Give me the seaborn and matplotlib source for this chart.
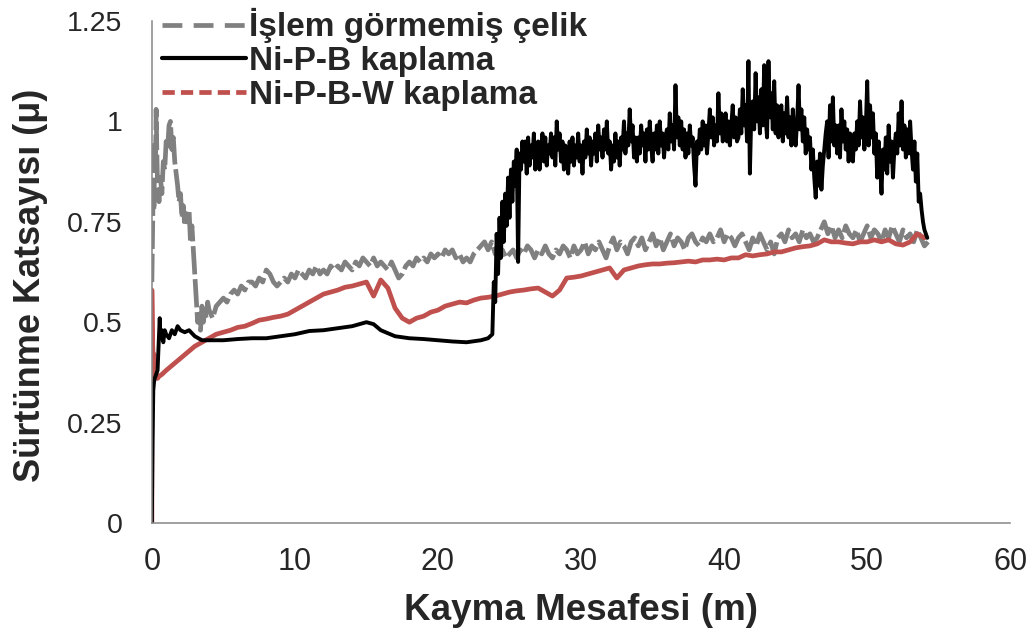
import numpy as np
import pandas as pd
import matplotlib
matplotlib.use("Agg")
import matplotlib.pyplot as plt
import seaborn as sns
from matplotlib import font_manager
from matplotlib.lines import Line2D

# ---------------- data ----------------
series_names = ["İşlem görmemiş çelik", "Ni-P-B kaplama", "Ni-P-B-W kaplama"]

# Untreated steel (grey) - early part, explicit distances
gray_x_start = [0.0, 0.05, 0.1, 0.15, 0.2, 0.25, 0.3, 0.35, 0.4, 0.5, 0.6, 0.7, 0.8, 0.9,
                1.0, 1.1, 1.2, 1.3, 1.4, 1.5, 1.6, 1.7, 1.8, 1.9, 2.0, 2.1, 2.2, 2.3, 2.4,
                2.5, 2.6, 2.7, 2.8, 2.9, 3.0, 3.1, 3.2, 3.3, 3.4, 3.5, 3.6, 3.7, 3.8, 3.9]
gray_y_start = [0.60, 0.72, 0.85, 0.78, 0.95, 0.88, 1.03, 0.92, 0.84, 0.80, 0.86, 0.82, 0.90,
                0.88, 0.95, 0.93, 0.99, 1.00, 0.93, 0.96, 0.90, 0.87, 0.84, 0.80, 0.82, 0.76,
                0.79, 0.74, 0.77, 0.75, 0.78, 0.70, 0.74, 0.68, 0.62, 0.56, 0.50, 0.52, 0.48,
                0.54, 0.50, 0.53, 0.51, 0.55]
# grey, sampled every 0.25 m starting at 4.0 m
gray_rest_start, gray_rest_step = 4.0, 0.25
gray_y_rest = [
    0.53, 0.51, 0.54, 0.55,  0.56, 0.55, 0.57, 0.58,  0.57, 0.59, 0.58, 0.60,
    0.60, 0.59, 0.61, 0.60,  0.63, 0.62, 0.60, 0.59,  0.60, 0.61, 0.60, 0.62,
    0.61, 0.63, 0.62, 0.61,  0.63, 0.62, 0.64, 0.62,  0.63, 0.62, 0.64, 0.63,
    0.64, 0.63, 0.65, 0.64,  0.63, 0.65, 0.64, 0.66,  0.65, 0.64, 0.66, 0.64,
    0.65, 0.64, 0.63, 0.65,  0.63, 0.61, 0.62, 0.64,  0.65, 0.64, 0.66, 0.65,
    0.66, 0.65, 0.67, 0.66,  0.67, 0.66, 0.68, 0.67,  0.68, 0.66, 0.67, 0.65,
    0.66, 0.65, 0.67, 0.68,  0.69, 0.70, 0.68, 0.70,  0.67, 0.66, 0.68, 0.66,
    0.67, 0.68, 0.66, 0.68,  0.67, 0.69, 0.68, 0.66,  0.68, 0.67, 0.69, 0.67,
    0.66, 0.68, 0.67, 0.69,  0.68, 0.66, 0.69, 0.67,  0.68, 0.70, 0.67, 0.69,
    0.68, 0.70, 0.68, 0.66,  0.69, 0.71, 0.68, 0.70,  0.69, 0.67, 0.70, 0.71,
    0.69, 0.71, 0.68, 0.70,  0.72, 0.69, 0.71, 0.68,  0.70, 0.72, 0.69, 0.71,
    0.70, 0.68, 0.71, 0.72,  0.70, 0.69, 0.71, 0.70,  0.72, 0.70, 0.71, 0.73,
    0.70, 0.72, 0.71, 0.69,  0.71, 0.72, 0.70, 0.68,  0.71, 0.69, 0.72, 0.70,
    0.68, 0.70, 0.67, 0.71,  0.72, 0.70, 0.73, 0.71,  0.72, 0.70, 0.73, 0.71,
    0.72, 0.70, 0.71, 0.73,  0.75, 0.72, 0.74, 0.71,  0.73, 0.71, 0.74, 0.72,
    0.71, 0.73, 0.70, 0.72,  0.74, 0.71, 0.73, 0.72,  0.70, 0.73, 0.71, 0.74,
    0.72, 0.70, 0.73, 0.71,  0.72, 0.70, 0.73, 0.71,  0.69, 0.70]

# Ni-P-B coating (black) - early part, explicit distances
black_x_start = [0.0, 0.05, 0.1, 0.15, 0.2, 0.3, 0.4, 0.5, 0.55, 0.6, 0.7, 0.8, 0.9, 1.0,
                 1.2, 1.4, 1.6, 1.8, 2.0, 2.3, 2.6, 3.0, 3.5, 4.0, 5.0, 6.0, 7.0, 8.0, 9.0,
                 10.0, 11.0, 12.0, 13.0, 14.0, 15.0, 15.5, 16.0, 17.0, 18.0, 19.0, 20.0,
                 21.0, 22.0, 23.0, 23.5]
black_y_start = [0.0, 0.20, 0.33, 0.35, 0.36, 0.37, 0.38, 0.47, 0.51, 0.46, 0.48, 0.45, 0.48,
                 0.47, 0.46, 0.48, 0.47, 0.49, 0.48, 0.475, 0.48, 0.465, 0.455, 0.455, 0.455,
                 0.458, 0.46, 0.46, 0.465, 0.47, 0.478, 0.48, 0.485, 0.49, 0.50, 0.495, 0.48,
                 0.465, 0.46, 0.458, 0.455, 0.452, 0.45, 0.455, 0.46]
# black, sampled every 0.1 m starting at 23.8 m
black_rest_start, black_rest_step = 23.8, 0.1
black_y_rest = [
    0.47, 0.60, 0.55, 0.72, 0.62, 0.76, 0.66, 0.80, 0.70, 0.82, 0.74,
    0.86, 0.76, 0.88, 0.80, 0.90, 0.84, 0.93, 0.65, 0.92, 0.88, 0.95,
    0.90, 0.95, 0.87, 0.96, 0.89, 0.94, 0.91, 0.97, 0.88, 0.93,
    0.95, 0.88, 0.93, 0.97, 0.90, 0.96, 0.89, 0.94, 0.92, 0.97,
    0.91, 0.96, 0.89, 1.00, 0.93, 0.97, 0.90, 0.95, 0.88, 0.94,
    0.92, 0.87, 0.95, 0.90, 0.96, 0.89, 0.94, 0.91, 0.97, 0.90,
    0.94, 0.87, 0.95, 0.91, 0.98, 0.92, 0.96, 0.89, 0.95, 0.92,
    0.97, 0.90, 0.99, 0.93, 0.96, 0.91, 0.98, 0.93, 1.00, 0.92,
    0.95, 0.88, 0.94, 0.90, 0.97, 0.91, 0.95, 0.89, 0.96, 0.93,
    1.00, 0.92, 0.97, 0.94, 1.03, 0.95, 0.99, 0.91, 0.96, 0.90,
    0.96, 0.92, 0.99, 0.94, 0.97, 0.90, 0.98, 0.93, 1.00, 0.94,
    0.90, 0.97, 0.93, 0.99, 0.92, 1.00, 0.94, 0.97, 0.91, 0.96,
    0.98, 0.93, 1.02, 0.95, 0.99, 0.93, 1.09, 0.96, 1.01, 0.94,
    1.00, 0.93, 0.98, 0.91, 0.97, 0.92, 0.99, 0.94, 0.96, 0.89,
    0.84, 0.95, 0.92, 0.98, 0.93, 1.00, 0.94, 0.99, 0.92, 0.97,
    1.03, 0.96, 1.01, 0.94, 0.99, 0.95, 1.07, 0.97, 1.02, 0.95,
    0.97, 1.02, 0.95, 1.00, 0.94, 0.99, 1.04, 0.96, 1.01, 0.95,
    0.96, 1.03, 0.97, 1.08, 0.99, 1.04, 0.95, 1.15, 0.87, 1.02,
    1.05, 0.98, 1.12, 1.00, 1.06, 0.97, 1.08, 0.99, 1.14, 1.01,
    0.96, 1.15, 1.01, 1.07, 0.98, 1.10, 0.97, 1.04, 0.96, 1.02,
    1.04, 0.95, 1.02, 0.97, 1.06, 0.96, 1.01, 0.94, 1.03, 0.97,
    0.94, 1.00, 1.09, 0.98, 1.03, 0.95, 1.01, 0.92, 0.98, 0.93,
    0.96, 0.88, 0.93, 0.86, 0.81, 0.90, 0.84, 0.92, 0.83, 0.89,
    0.93, 0.97, 1.00, 0.91, 1.04, 0.95, 1.06, 0.94, 0.99, 0.92,
    0.99, 0.91, 1.03, 0.95, 1.00, 0.93, 0.98, 0.90, 0.97, 0.92,
    0.90, 0.97, 0.93, 1.00, 0.94, 1.05, 0.96, 1.01, 0.93, 0.98,
    1.10, 0.94, 1.04, 0.96, 1.02, 0.92, 0.97, 0.86, 0.95, 0.89,
    0.82, 0.93, 0.88, 0.96, 0.87, 0.99, 0.90, 0.95, 0.86, 0.93,
    0.97, 0.92, 1.02, 0.94, 1.05, 0.93, 0.99, 0.91, 0.98, 0.92,
    1.00, 0.93, 0.88, 0.95, 0.85, 0.92, 0.80, 0.82, 0.78, 0.75,
    0.73, 0.72, 0.71]

# Ni-P-B-W coating (red) - early part, explicit distances
red_x_start = [0.0, 0.0, 0.05, 0.1, 0.15, 0.2, 0.3, 0.4, 0.5, 0.7]
red_y_start = [0.0, 0.58, 0.45, 0.40, 0.42, 0.38, 0.37, 0.36, 0.365, 0.37]
# red, sampled every 0.5 m starting at 1.0 m
red_rest_start, red_rest_step = 1.0, 0.5
red_y_rest = [
    0.38, 0.395, 0.41, 0.425, 0.44, 0.45, 0.46, 0.47, 0.475, 0.48,
    0.487, 0.49, 0.497, 0.505, 0.508, 0.512, 0.515, 0.52, 0.53, 0.54,
    0.55, 0.56, 0.57, 0.575, 0.58, 0.587, 0.59, 0.595, 0.60, 0.565,
    0.605, 0.585, 0.535, 0.51, 0.50, 0.51, 0.515, 0.525, 0.53, 0.54,
    0.545, 0.55, 0.548, 0.555, 0.56, 0.562, 0.565, 0.57, 0.575, 0.578,
    0.58, 0.583, 0.585, 0.575, 0.565, 0.58, 0.61, 0.612, 0.615, 0.62,
    0.625, 0.63, 0.635, 0.61, 0.63, 0.635, 0.64, 0.643, 0.645, 0.645,
    0.647, 0.648, 0.65, 0.652, 0.65, 0.655, 0.655, 0.657, 0.655, 0.66,
    0.66, 0.668, 0.665, 0.668, 0.67, 0.675, 0.675, 0.68, 0.685, 0.688,
    0.69, 0.695, 0.705, 0.70, 0.70, 0.697, 0.695, 0.70, 0.70, 0.705,
    0.70, 0.705, 0.695, 0.692, 0.70, 0.72, 0.71]

x_ticks = [0, 10, 20, 30, 40, 50, 60]
y_ticks = [0, 0.25, 0.5, 0.75, 1, 1.25]
y_tick_labels = ["0", "0.25", "0.5", "0.75", "1", "1.25"]
x_label = "Kayma Mesafesi (m)"
y_label = "Sürtünme Katsayısı (μ)"

# ---------------- assemble ----------------
def build(xs, ys, start, step, rest):
    xr = start + step * np.arange(len(rest))
    return (np.concatenate([np.asarray(xs, float), xr]),
            np.concatenate([np.asarray(ys, float), np.asarray(rest, float)]))

gx, gy = build(gray_x_start, gray_y_start, gray_rest_start, gray_rest_step, gray_y_rest)
bx, by = build(black_x_start, black_y_start, black_rest_start, black_rest_step, black_y_rest)
rx, ry = build(red_x_start, red_y_start, red_rest_start, red_rest_step, red_y_rest)

df = pd.concat([
    pd.DataFrame({"x": gx, "y": gy, "s": series_names[0], "o": np.arange(len(gx))}),
    pd.DataFrame({"x": bx, "y": by, "s": series_names[1], "o": np.arange(len(bx))}),
    pd.DataFrame({"x": rx, "y": ry, "s": series_names[2], "o": np.arange(len(rx))}),
], ignore_index=True)

# ---------------- style ----------------
sns.set_style("white")
avail = {f.name for f in font_manager.fontManager.ttflist}
base_font = "Liberation Sans" if "Liberation Sans" in avail else "DejaVu Sans"
plt.rcParams["font.family"] = [base_font, "DejaVu Sans"]

axis_grey = "#868686"
colors = {series_names[0]: "#808080", series_names[1]: "#000000", series_names[2]: "#C0504D"}

fig = plt.figure(figsize=(10.33, 6.36), dpi=100)
ax = fig.add_axes([0.147, 0.1777, 0.831, 0.7893])

draw_order = [series_names[0], series_names[2], series_names[1]]
plot_dash = {series_names[0]: (6.0, 1.0), series_names[1]: None, series_names[2]: None}
legend_dash = {series_names[0]: (4.2, 2.4), series_names[1]: None, series_names[2]: (2.6, 1.3)}
width_map = {series_names[0]: 3.4, series_names[1]: 2.8, series_names[2]: 3.4}
for name in draw_order:
    sub = df[df["s"] == name].sort_values("o")
    sns.lineplot(data=sub, x="x", y="y", sort=False, estimator=None, ax=ax,
                 color=colors[name], lw=width_map[name], legend=False)
    line = ax.lines[-1]
    if plot_dash[name] is not None:
        line.set_dashes(plot_dash[name])
    line.set_solid_joinstyle("round")
    line.set_dash_joinstyle("round")

ax.set_xlim(0, 60)
ax.set_ylim(0, 1.25)
ax.set_xticks(x_ticks)
ax.set_xticklabels([str(v) for v in x_ticks], fontsize=22)
ax.set_yticks(y_ticks)
ax.set_yticklabels(y_tick_labels, fontsize=20.5)
ax.tick_params(axis="x", direction="out", length=7, width=1.1, color=axis_grey, pad=10)
ax.tick_params(axis="y", direction="out", length=7, width=1.1, color=axis_grey, pad=14)

for side in ["top", "right"]:
    ax.spines[side].set_visible(False)
for side in ["left", "bottom"]:
    ax.spines[side].set_color(axis_grey)
    ax.spines[side].set_linewidth(1.1)

ax.set_xlabel(x_label, fontsize=26.5, fontweight="bold", labelpad=12)
ax.set_ylabel(y_label, fontsize=26, fontweight="bold")
ax.yaxis.set_label_coords(-0.121, 0.474)

# legend handles in the reference order and line styles
handles = []
for name in series_names:
    h = Line2D([], [], color=colors[name], lw=3.4 if name != series_names[1] else 3.0)
    if legend_dash[name] is not None:
        h.set_dashes(legend_dash[name])
    handles.append(h)
leg = ax.legend(handles, series_names,
                loc="upper left", bbox_to_anchor=(0.157, 0.987), bbox_transform=fig.transFigure,
                frameon=False, prop={"weight": "bold", "size": 24},
                handlelength=2.5, handletextpad=0.1, labelspacing=0.08, borderpad=0.0,
                borderaxespad=0.0)

fig.savefig("out.png", dpi=100)
